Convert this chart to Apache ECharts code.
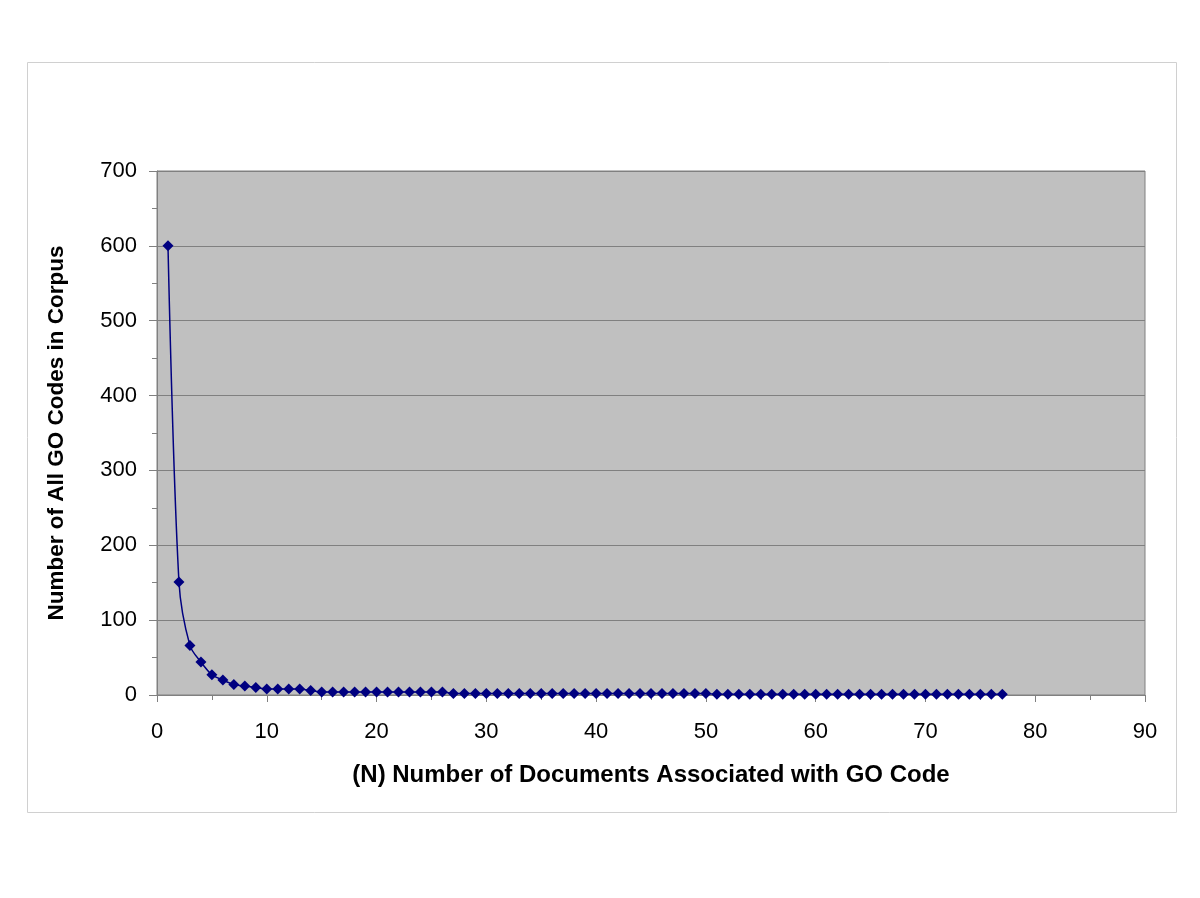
<!DOCTYPE html>
<html>
<head>
<meta charset="utf-8">
<script src="https://cdn.jsdelivr.net/npm/echarts@6/dist/echarts.min.js"></script>
<style>html,body{margin:0;padding:0;background:#fff;}#c{width:1200px;height:898px;}</style>
</head>
<body>
<div id="c"></div>
<script>
const xValues = [];
for (let i = 1; i <= 77; i++) xValues.push(i);
const yValues = [600,151,66,44,27,20,14,12,10,8,8,8,8,6,4,4,4,4,4,4,4,4,4,4,4,4,
  2,2,2,2,2,2,2,2,2,2,2,2,2,2,2,2,2,2,2,2,2,2,2,2,
  1,1,1,1,1,1,1,1,1,1,1,1,1,1,1,1,1,1,1,1,1,1,1,1,1,1,1];
const xTitle = '(N) Number of Documents Associated with GO Code';
const yTitle = 'Number of All GO Codes in Corpus';

const chart = echarts.init(document.getElementById('c'), null, {renderer: 'canvas'});
const font = 'Liberation Sans, Arial, sans-serif';
chart.setOption({
  animation: false,
  backgroundColor: '#fff',
  graphic: [{
    type: 'rect', shape: {x: 27.5, y: 62.5, width: 1149, height: 750},
    style: {fill: 'none', stroke: '#d0d0d0', lineWidth: 1}, z: -10
  }],
  grid: {left: 157, right: 55, top: 171, bottom: 203, show: true,
    backgroundColor: '#C0C0C0', borderColor: '#808080', borderWidth: 1},
  xAxis: {
    type: 'value', min: 0, max: 90, interval: 10,
    name: xTitle, nameLocation: 'middle', nameGap: 68,
    nameTextStyle: {fontFamily: font, fontSize: 24, fontWeight: 'bold', color: '#000'},
    axisLine: {show: true, onZero: false, lineStyle: {color: '#808080'}},
    axisTick: {show: true, length: 7, lineStyle: {color: '#808080'}},
    minorTick: {show: true, splitNumber: 2, length: 5, lineStyle: {color: '#808080'}},
    axisLabel: {fontFamily: font, fontSize: 22, color: '#000', margin: 26},
    splitLine: {show: false}
  },
  yAxis: {
    type: 'value', min: 0, max: 700, interval: 100,
    name: yTitle, nameLocation: 'middle', nameGap: 89,
    nameTextStyle: {fontFamily: font, fontSize: 22.5, fontWeight: 'bold', color: '#000'},
    axisLine: {show: true, lineStyle: {color: '#808080'}},
    axisTick: {show: true, length: 8, lineStyle: {color: '#808080'}},
    minorTick: {show: true, splitNumber: 2, length: 5, lineStyle: {color: '#808080'}},
    axisLabel: {fontFamily: font, fontSize: 22, color: '#000', margin: 20},
    splitLine: {show: true, lineStyle: {color: '#808080', width: 1}}
  },
  series: [{
    type: 'line',
    data: xValues.map((x, i) => [x, yValues[i]]),
    smooth: 0.3,
    symbol: 'diamond', symbolSize: 11,
    itemStyle: {color: '#000080'},
    lineStyle: {color: '#000080', width: 1.5}
  }]
});
</script>
</body>
</html>
